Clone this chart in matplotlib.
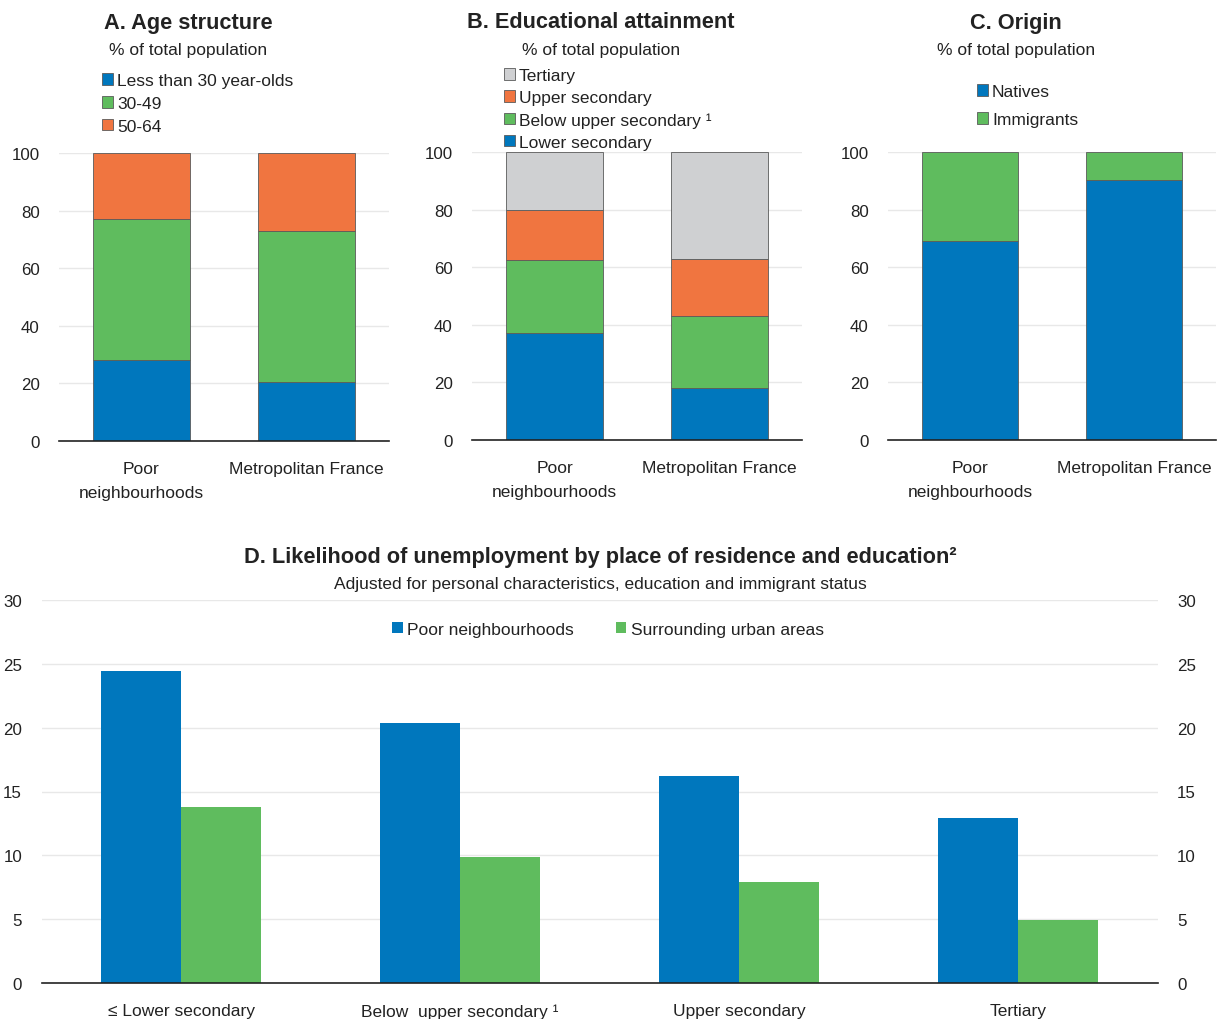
import matplotlib
matplotlib.use("Agg")
import matplotlib.pyplot as plt
import numpy as np

# --- data ---------------------------------------------------------------
regions = ["Poor\nneighbourhoods", "Metropolitan France"]

age_under30 = [28.0, 20.5]
age_30_49 = [49.0, 52.5]
age_50_64 = [23.0, 27.0]

edu_lower_sec = [37.0, 18.0]
edu_below_upper = [25.5, 25.0]
edu_upper_sec = [17.5, 20.0]
edu_tertiary = [20.0, 37.0]

origin_natives = [69.0, 90.3]
origin_immigrants = [31.0, 9.7]

edu_levels = ["\u2264 Lower secondary", "Below  upper secondary \u00b9", "Upper secondary", "Tertiary"]
unemp_poor = [24.4, 20.4, 16.2, 12.9]
unemp_urban = [13.8, 9.9, 7.9, 4.9]

# --- style --------------------------------------------------------------
plt.rcParams["font.family"] = ["Liberation Sans", "DejaVu Sans"]
plt.rcParams["text.color"] = "#222222"

BLUE = "#0077bd"
GREEN = "#5fbc5e"
ORANGE = "#f07540"
GREY = "#cfd0d2"
GRID = "#e8e8e8"
TXT = "#222222"

FS = 12.5      # labels, legends, subtitles
FS_TICK = 12.2 # y tick labels
FS_TITLE = 15.7

W, H = 1218, 1020
fig = plt.figure(figsize=(W / 100, H / 100), dpi=100)


def fx(x):
    return x / W


def fy(y):
    return 1 - y / H


def add_axes(left, top, right, bottom):
    return fig.add_axes([fx(left), fy(bottom), (right - left) / W, (bottom - top) / H])


def style(ax, ymax, step):
    ax.set_ylim(0, ymax)
    ax.set_yticks(np.arange(0, ymax + 0.1, step))
    ax.grid(axis="y", color=GRID, linewidth=1)
    ax.set_axisbelow(True)
    for s in ["top", "right", "left"]:
        ax.spines[s].set_visible(False)
    ax.spines["bottom"].set_color("#222222")
    ax.spines["bottom"].set_linewidth(1.2)
    ax.tick_params(axis="both", length=0, colors=TXT)
    ax.tick_params(axis="y", pad=14, labelsize=FS_TICK)
    ax.tick_params(axis="x", pad=14.5, labelsize=FS)


def stacked(ax, series, colors, labels):
    x = np.arange(len(regions))
    bottom = np.zeros(len(regions))
    handles = []
    for vals, c, lab in zip(series, colors, labels):
        b = ax.bar(x, vals, bottom=bottom, width=0.59, color=c,
                   edgecolor="#5a5a5a", linewidth=0.6, label=lab)
        handles.append(b)
        bottom += np.array(vals)
    ax.set_xlim(-0.5, len(regions) - 0.5)
    ax.set_xticks(x)
    ax.set_xticklabels(regions, linespacing=1.72)
    style(ax, 100, 20)
    return handles


def legend(ax, handles, labels, x, y, spacing):
    ax.legend(handles, labels, loc="upper left", bbox_to_anchor=(fx(x), fy(y)),
              bbox_transform=fig.transFigure, frameon=False, fontsize=FS,
              handlelength=0.62, handleheight=0.62, handletextpad=0.25,
              labelspacing=spacing, borderaxespad=0, borderpad=0)


def titles(cx, title, sub, ty=23, sy=51):
    fig.text(fx(cx), fy(ty), title, ha="center", va="center", fontsize=FS_TITLE, fontweight="bold")
    fig.text(fx(cx), fy(sy), sub, ha="center", va="center", fontsize=FS)


# Panel A
axA = add_axes(59, 154, 389, 442)
hA = stacked(axA, [age_under30, age_30_49, age_50_64], [BLUE, GREEN, ORANGE],
             ["Less than 30 year-olds", "30-49", "50-64"])
titles(188, "A. Age structure", "% of total population")
legend(axA, hA, ["Less than 30 year-olds", "30-49", "50-64"], 102, 74, 0.46)

# Panel B
axB = add_axes(472, 153, 802, 441)
hB = stacked(axB, [edu_lower_sec, edu_below_upper, edu_upper_sec, edu_tertiary],
             [BLUE, GREEN, ORANGE, GREY],
             ["Lower secondary", "Below upper secondary \u00b9", "Upper secondary", "Tertiary"])
titles(601, "B. Educational attainment", "% of total population")
legend(axB, hB[::-1], ["Tertiary", "Upper secondary", "Below upper secondary \u00b9", "Lower secondary"],
       504, 69, 0.41)

# Panel C
axC = add_axes(888, 153, 1216, 441)
hC = stacked(axC, [origin_natives, origin_immigrants], [BLUE, GREEN], ["Natives", "Immigrants"])
titles(1016, "C. Origin", "% of total population")
legend(axC, hC, ["Natives", "Immigrants"], 977, 85, 0.76)

# Panel D
axD = add_axes(41.5, 601, 1157.5, 984)
x = np.arange(len(edu_levels))
bw = 0.287
b1 = axD.bar(x - bw / 2, unemp_poor, width=bw, color=BLUE, label="Poor neighbourhoods")
b2 = axD.bar(x + bw / 2, unemp_urban, width=bw, color=GREEN, label="Surrounding urban areas")
axD.set_xlim(-0.5, len(edu_levels) - 0.5)
axD.set_xticks(x)
axD.set_xticklabels(edu_levels)
style(axD, 30, 5)
axD.tick_params(axis="y", labelright=True, right=False)
axD.tick_params(axis="x", pad=14.5)
fig.text(fx(600), fy(558), "D. Likelihood of unemployment by place of residence and education\u00b2",
         ha="center", va="center", fontsize=FS_TITLE, fontweight="bold")
fig.text(fx(600), fy(585), "Adjusted for personal characteristics, education and immigrant status",
         ha="center", va="center", fontsize=FS)
axD.legend(handles=[b1, b2], loc="center", bbox_to_anchor=(fx(608), fy(630)),
           bbox_transform=fig.transFigure, frameon=False, fontsize=FS, ncol=2,
           handlelength=0.62, handleheight=0.62, handletextpad=0.25, columnspacing=2.4,
           borderaxespad=0, borderpad=0)

fig.savefig("out.png", dpi=100)
